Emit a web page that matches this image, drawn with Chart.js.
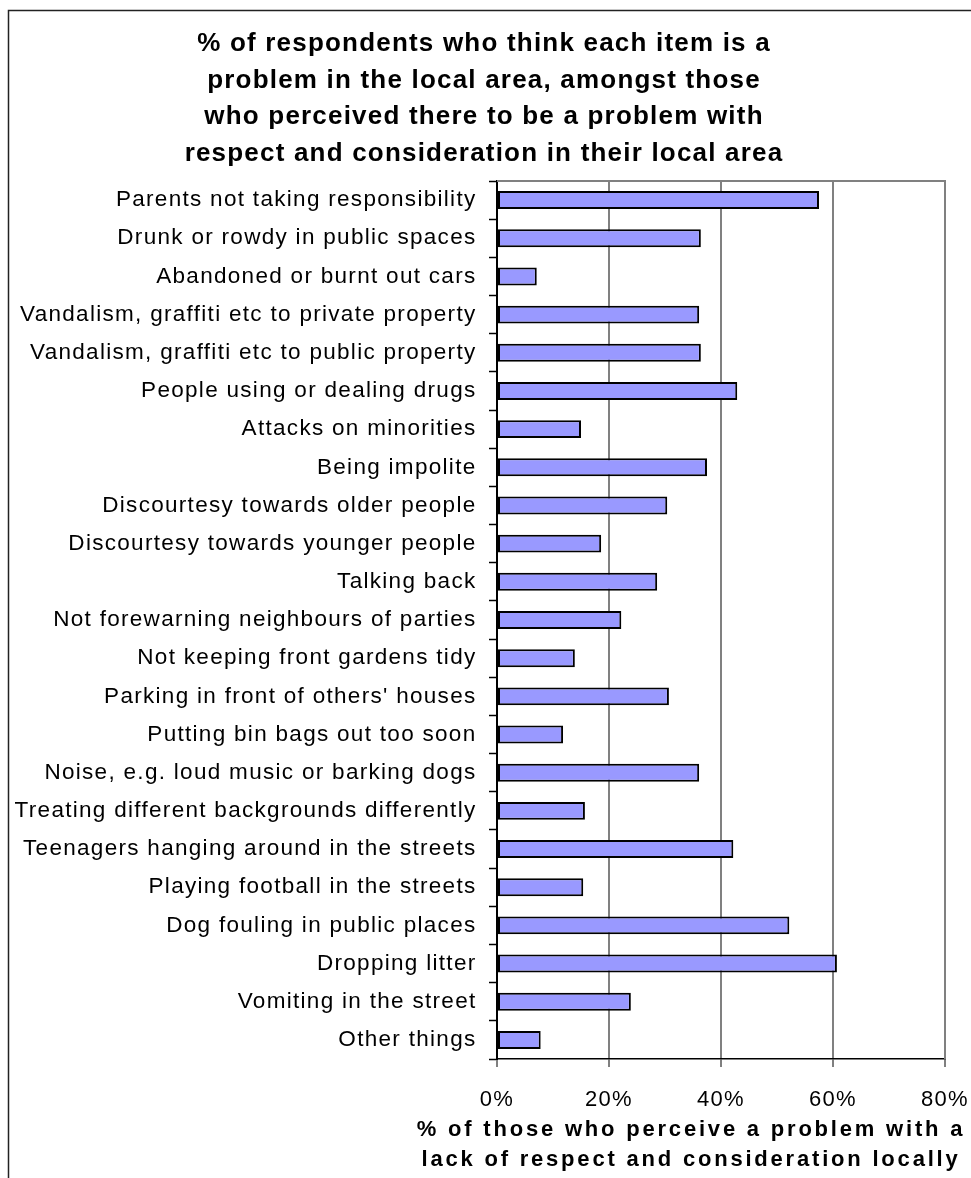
<!DOCTYPE html>
<html>
<head>
<meta charset="utf-8">
<title>Respect and consideration chart</title>
<script src="https://cdn.jsdelivr.net/npm/chart.js@4/dist/chart.umd.min.js"></script>
<style>
  html, body { margin: 0; padding: 0; background: #fff; }
  #chart { display: block; }
</style>
</head>
<body>
<canvas id="chart" width="971" height="1178"></canvas>
<script>
// Data
const categories = [
    'Parents not taking responsibility',
    'Drunk or rowdy in public spaces',
    'Abandoned or burnt out cars',
    'Vandalism, graffiti etc to private property',
    'Vandalism, graffiti etc to public property',
    'People using or dealing drugs',
    'Attacks on minorities',
    'Being impolite',
    'Discourtesy towards older people',
    'Discourtesy towards younger people',
    'Talking back',
    'Not forewarning neighbours of parties',
    'Not keeping front gardens tidy',
    "Parking in front of others' houses",
    'Putting bin bags out too soon',
    'Noise, e.g. loud music or barking dogs',
    'Treating different backgrounds differently',
    'Teenagers hanging around in the streets',
    'Playing football in the streets',
    'Dog fouling in public places',
    'Dropping litter',
    'Vomiting in the street',
    'Other things'
];
const percentages = [57.5, 36.4, 7.1, 36.1, 36.4, 42.9, 15.0, 37.5, 30.4, 18.6, 28.6, 22.2, 13.9, 30.7, 11.8, 36.1, 15.7, 42.2, 15.4, 52.2, 60.7, 23.9, 7.8];
const xTicks = [0, 20, 40, 60, 80];
const titleLines = [
    '% of respondents who think each item is a',
    'problem in the local area, amongst those',
    'who perceived there to be a problem with',
    'respect and consideration in their local area'
];
const axisTitleLines = [
    '% of those who perceive a problem with a',
    'lack of respect and consideration locally'
];

const FONT = '"Liberation Sans", Arial, sans-serif';

// frame, grey plot border, wider lettering like the original
const framePlugin = {
    id: 'frame',
    beforeDraw(chart) {
        const ctx = chart.ctx;
        ctx.save();
        ctx.fillStyle = '#fff';
        ctx.fillRect(0, 0, chart.width, chart.height);
        ctx.strokeStyle = '#222';
        ctx.lineWidth = 1.5;
        ctx.beginPath();
        ctx.moveTo(8.5, chart.height);
        ctx.lineTo(8.5, 10.5);
        ctx.lineTo(chart.width, 10.5);
        ctx.stroke();
        ctx.restore();
        ctx.letterSpacing = '1.3px';
    },
    beforeDatasetsDraw(chart) {
        const a = chart.chartArea;
        const ctx = chart.ctx;
        ctx.save();
        ctx.strokeStyle = '#808080';
        ctx.lineWidth = 2;
        ctx.beginPath();
        ctx.moveTo(a.left, a.top);
        ctx.lineTo(a.right, a.top);
        ctx.lineTo(a.right, a.bottom);
        ctx.stroke();
        ctx.restore();
    }
};

// chart title and x axis title
const textPlugin = {
    id: 'texts',
    afterDraw(chart) {
        const a = chart.chartArea;
        const ctx = chart.ctx;
        ctx.save();
        ctx.fillStyle = '#000';
        ctx.textAlign = 'center';

        ctx.font = 'bold 26px ' + FONT;
        ctx.letterSpacing = '1.2px';
        ctx.textBaseline = 'middle';
        titleLines.forEach((line, i) => {
            ctx.fillText(line, 484, 44 + i * 36.5);
        });

        ctx.font = 'bold 22px ' + FONT;
        ctx.letterSpacing = '2.8px';
        ctx.textBaseline = 'alphabetic';
        const cx = (a.left + a.right) / 2 - 30;
        axisTitleLines.forEach((line, i) => {
            ctx.fillText(line, cx, a.bottom + 77 + i * 30);
        });
        ctx.restore();
    }
};

const ctx = document.getElementById('chart').getContext('2d');
new Chart(ctx, {
    type: 'bar',
    data: {
        labels: categories,
        datasets: [{
            data: percentages,
            backgroundColor: '#9999ff',
            borderColor: '#000',
            borderWidth: 2,
            borderSkipped: false,
            barPercentage: 0.47,
            categoryPercentage: 1
        }]
    },
    options: {
        indexAxis: 'y',
        responsive: false,
        animation: false,
        layout: { padding: { left: 0, right: 0, top: 181, bottom: 0 } },
        plugins: {
            legend: { display: false },
            tooltip: { enabled: false },
            title: { display: false }
        },
        scales: {
            x: {
                min: 0,
                max: 80,
                afterBuildTicks(scale) {
                    scale.ticks = xTicks.map(v => ({ value: v }));
                },
                afterFit(scale) {
                    scale.height = 119;
                    scale.paddingLeft = 0;
                    scale.paddingRight = 26;
                },
                grid: {
                    color: '#808080',
                    lineWidth: 2,
                    tickLength: 8,
                    tickColor: '#000',
                    tickWidth: 1
                },
                border: { color: '#000', width: 1.5 },
                ticks: {
                    color: '#000',
                    padding: 20,
                    font: { family: FONT, size: 22 },
                    callback: v => v + '%'
                }
            },
            y: {
                afterFit(scale) {
                    scale.width = 497;
                    scale.paddingTop = 0;
                    scale.paddingBottom = 0;
                },
                grid: {
                    drawOnChartArea: false,
                    tickLength: 8,
                    tickColor: '#000',
                    tickWidth: 1.5
                },
                border: { color: '#000', width: 2 },
                ticks: {
                    color: '#000',
                    padding: 12.5,
                    autoSkip: false,
                    font: { family: FONT, size: 22.5 }
                }
            }
        }
    },
    plugins: [framePlugin, textPlugin]
});
</script>
</body>
</html>
